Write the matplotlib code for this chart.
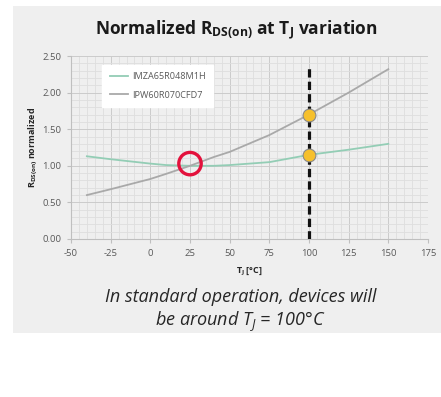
import numpy as np
import matplotlib
matplotlib.use("Agg")
import matplotlib.pyplot as plt
from matplotlib.patches import Rectangle

plt.rcParams["font.family"] = ["Open Sans", "DejaVu Sans"]
plt.rcParams["mathtext.fontset"] = "custom"
plt.rcParams["mathtext.rm"] = "Open Sans"
plt.rcParams["mathtext.it"] = "Open Sans:italic"
plt.rcParams["mathtext.bf"] = "Open Sans:bold"
plt.rcParams["axes.unicode_minus"] = False

# data
temps = [-40, -25, 0, 10, 25, 40, 50, 75, 100, 125, 150]
sic_rds = [1.13, 1.09, 1.03, 1.01, 1.00, 1.00, 1.01, 1.05, 1.15, 1.22, 1.30]
si_rds = [0.60, 0.68, 0.82, 0.89, 1.00, 1.12, 1.19, 1.42, 1.70, 2.00, 2.32]
names = ["IMZA65R048M1H", "IPW60R070CFD7"]
op_temp = 100
op_values = [1.70, 1.15]
ref_point = (25, 1.03)
dash_top = 2.36

fig = plt.figure(figsize=(4.41, 3.97), dpi=100)
fig.patches.append(Rectangle((13 / 441, 1 - 333 / 397), (441 - 13) / 441, (333 - 6) / 397,
                             transform=fig.transFigure, facecolor="#efefef",
                             edgecolor="none", zorder=-10))

ax = fig.add_axes([71 / 441, 1 - 239 / 397, (428 - 71) / 441, (239 - 56) / 397])
ax.set_facecolor("none")

ax.plot(temps, sic_rds, color="#93cdb5", lw=1.3, label=names[0], zorder=3)
ax.plot(temps, si_rds, color="#a9a9a9", lw=1.3, label=names[1], zorder=3)

ax.plot([op_temp, op_temp], [0, dash_top], color="#111111", lw=2.3,
        linestyle=(0, (2.6, 1.3)), zorder=4)
ax.scatter([op_temp] * len(op_values), op_values, s=85, color="#f6c02c",
           edgecolor="#8a8a8a", linewidth=0.8, zorder=5)
ax.scatter([ref_point[0]], [ref_point[1]], s=260, facecolor="none",
           edgecolor="#e3113c", linewidth=2.4, zorder=5)

ax.set_xlim(-50, 175)
ax.set_ylim(0, 2.5)
ax.set_xticks(np.arange(-50, 176, 25))
ax.set_xticks(np.arange(-50, 176, 5), minor=True)
ax.set_yticks(np.arange(0, 2.51, 0.5))
ax.set_yticks(np.arange(0, 2.51, 0.1), minor=True)
ax.set_yticklabels([f"{v:.2f}" for v in np.arange(0, 2.51, 0.5)])
ax.grid(which="major", color="#cbcbcb", lw=0.7)
ax.grid(which="minor", color="#dedede", lw=0.6)
ax.set_axisbelow(True)
for s in ["top", "right"]:
    ax.spines[s].set_visible(False)
for s in ["left", "bottom"]:
    ax.spines[s].set_color("#bfbfbf")
    ax.spines[s].set_linewidth(0.8)
ax.tick_params(which="major", length=3, color="#bfbfbf", labelsize=6.8,
               labelcolor="#595959", pad=4)
ax.tick_params(which="minor", length=0)

ax.set_xlabel(r"T$_{\mathbf{J}}$ [°C]", fontsize=6.5, fontweight="bold",
              color="#262626", labelpad=6)
ax.set_ylabel(r"R$_{\mathbf{DS(on)}}$ normalized", fontsize=6.5, fontweight="bold",
              color="#262626", labelpad=2)

leg = ax.legend(loc="upper left", bbox_to_anchor=(0.075, 0.975), fontsize=6.6,
                frameon=True, fancybox=False, handlelength=2.0, borderpad=0.8,
                labelspacing=1.0, handletextpad=0.4)
leg.get_frame().set_facecolor("white")
leg.get_frame().set_edgecolor("white")
leg.get_frame().set_alpha(1)
for t in leg.get_texts():
    t.set_color("#595959")

fig.text(0.535, 1 - 30 / 397,
         r"Normalized R$_{\mathbf{DS(on)}}$ at T$_{\mathbf{J}}$ variation",
         ha="center", va="center", fontsize=12.5, fontweight="bold", color="#1a1a1a")

fig.text(0.546, 1 - 311 / 397,
         "In standard operation, devices will\n" + r"be around T$_{\mathit{J}}$ = 100°C",
         ha="center", va="center", fontsize=13, style="italic", color="#262626",
         linespacing=1.3)

fig.savefig("out.png", dpi=100)
